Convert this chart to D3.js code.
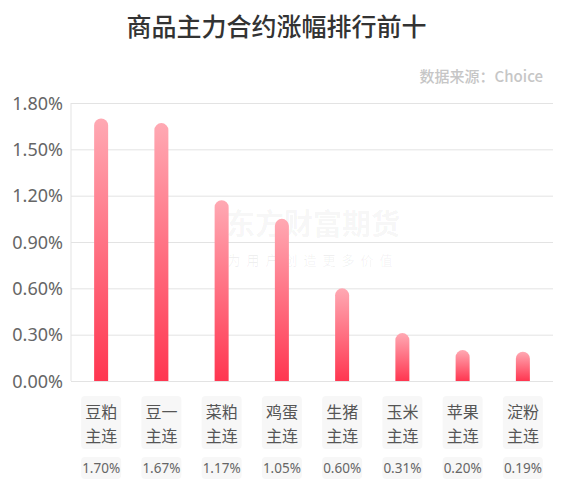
<!DOCTYPE html>
<html>
<head>
<meta charset="utf-8">
<script src="https://cdn.jsdelivr.net/npm/d3@7"></script>
<style>
  html, body { margin: 0; padding: 0; background: #fff; }
  svg { display: block; font-family: "Noto Sans CJK SC", "Noto Sans", sans-serif; }
  .axis path { display: none; }
  .axis line { stroke: #e3e3e3; }
  .axis text { fill: #666; font-size: 18px; font-family: "Noto Sans", "Noto Sans CJK SC", sans-serif; }
</style>
</head>
<body>
<svg id="chart" width="565" height="491"></svg>
<script>
var categories = ["豆粕主连", "豆一主连", "菜粕主连", "鸡蛋主连", "生猪主连", "玉米主连", "苹果主连", "淀粉主连"];
var values = [1.70, 1.67, 1.17, 1.05, 0.60, 0.31, 0.20, 0.19];
var yTicks = [0, 0.3, 0.6, 0.9, 1.2, 1.5, 1.8];

(function() {
  var svg = d3.select("#chart"),
      margin = {top: 103, right: 12, bottom: 110, left: 71},
      width = 565 - margin.left - margin.right,
      height = 491 - margin.top - margin.bottom;

  var data = categories.map(function(c, i) { return {name: c, value: values[i]}; });

  var x = d3.scaleBand().domain(categories).range([0, width]);
  var y = d3.scaleLinear().domain([0, 1.8]).range([height, 0]);

  var defs = svg.append("defs");
  var grad = defs.append("linearGradient")
      .attr("id", "barGrad")
      .attr("x1", 0).attr("y1", 0).attr("x2", 0).attr("y2", 1);
  grad.append("stop").attr("offset", "0%").attr("stop-color", "#ffa9b3");
  grad.append("stop").attr("offset", "100%").attr("stop-color", "#ff3650");

  // title + source
  svg.append("text")
      .attr("x", 276.5).attr("y", 36)
      .attr("text-anchor", "middle")
      .style("font-size", "25px")
      .style("font-weight", 500)
      .style("fill", "#333")
      .text("商品主力合约涨幅排行前十");

  svg.append("text")
      .attr("x", 543).attr("y", 82)
      .attr("text-anchor", "end")
      .style("font-size", "15px")
      .style("font-weight", 500)
      .style("fill", "#c6c6c6")
      .text("数据来源：Choice");

  var g = svg.append("g")
      .attr("transform", "translate(" + margin.left + "," + margin.top + ")");

  g.append("g")
      .attr("class", "y axis")
      .call(d3.axisLeft(y).tickValues(yTicks).tickSize(-width).tickPadding(8)
        .tickFormat(function(d) { return d.toFixed(2) + "%"; }))
      .call(function(a) { a.selectAll("text").attr("x", -8).attr("dy", "0.35em"); });

  // y axis line
  g.append("line")
      .attr("x1", 0).attr("x2", 0).attr("y1", 0).attr("y2", height)
      .attr("stroke", "#e3e3e3");

  // watermark
  g.append("text")
      .attr("x", 242).attr("y", 132)
      .attr("text-anchor", "middle")
      .style("font-size", "29px")
      .style("font-weight", 700)
      .style("fill", "#000")
      .style("fill-opacity", 0.05)
      .text("东方财富期货");
  g.append("text")
      .attr("x", 242).attr("y", 162)
      .attr("text-anchor", "middle")
      .style("font-size", "13px")
      .style("letter-spacing", "6px")
      .style("fill", "#000")
      .style("fill-opacity", 0.06)
      .text("为用户创造更多价值");

  var barW = 14;
  g.selectAll(".bar")
      .data(data)
    .enter().append("path")
      .attr("class", "bar")
      .attr("fill", "url(#barGrad)")
      .attr("d", function(d) {
        var cx = x(d.name) + x.bandwidth() / 2,
            x0 = cx - barW / 2, x1 = cx + barW / 2,
            top = y(d.value), r = barW / 2, b = y(0);
        return "M" + x0 + "," + b + "V" + (top + r) +
               "A" + r + "," + r + " 0 0 1 " + x1 + "," + (top + r) +
               "V" + b + "Z";
      });

  // category label boxes
  var lab = g.selectAll(".lab")
      .data(data)
    .enter().append("g")
      .attr("class", "lab")
      .attr("transform", function(d) {
        return "translate(" + (x(d.name) + x.bandwidth() / 2) + "," + height + ")";
      });

  lab.append("rect")
      .attr("x", -20).attr("y", 15).attr("width", 40).attr("height", 53)
      .attr("rx", 4).attr("fill", "#f7f7f7");
  lab.append("text")
      .attr("y", 37).attr("text-anchor", "middle")
      .style("font-size", "16px").style("fill", "#555")
      .text(function(d) { return d.name.slice(0, 2); });
  lab.append("text")
      .attr("y", 60.5).attr("text-anchor", "middle")
      .style("font-size", "16px").style("fill", "#555")
      .text(function(d) { return d.name.slice(2); });

  lab.append("rect")
      .attr("x", -20).attr("y", 76).attr("width", 40).attr("height", 22)
      .attr("rx", 4).attr("fill", "#f7f7f7");
  lab.append("text")
      .attr("y", 92).attr("text-anchor", "middle")
      .style("font-size", "13.5px").style("fill", "#666")
      .style("font-family", "'Noto Sans', sans-serif")
      .text(function(d) { return d.value.toFixed(2) + "%"; });
})();
</script>
</body>
</html>
